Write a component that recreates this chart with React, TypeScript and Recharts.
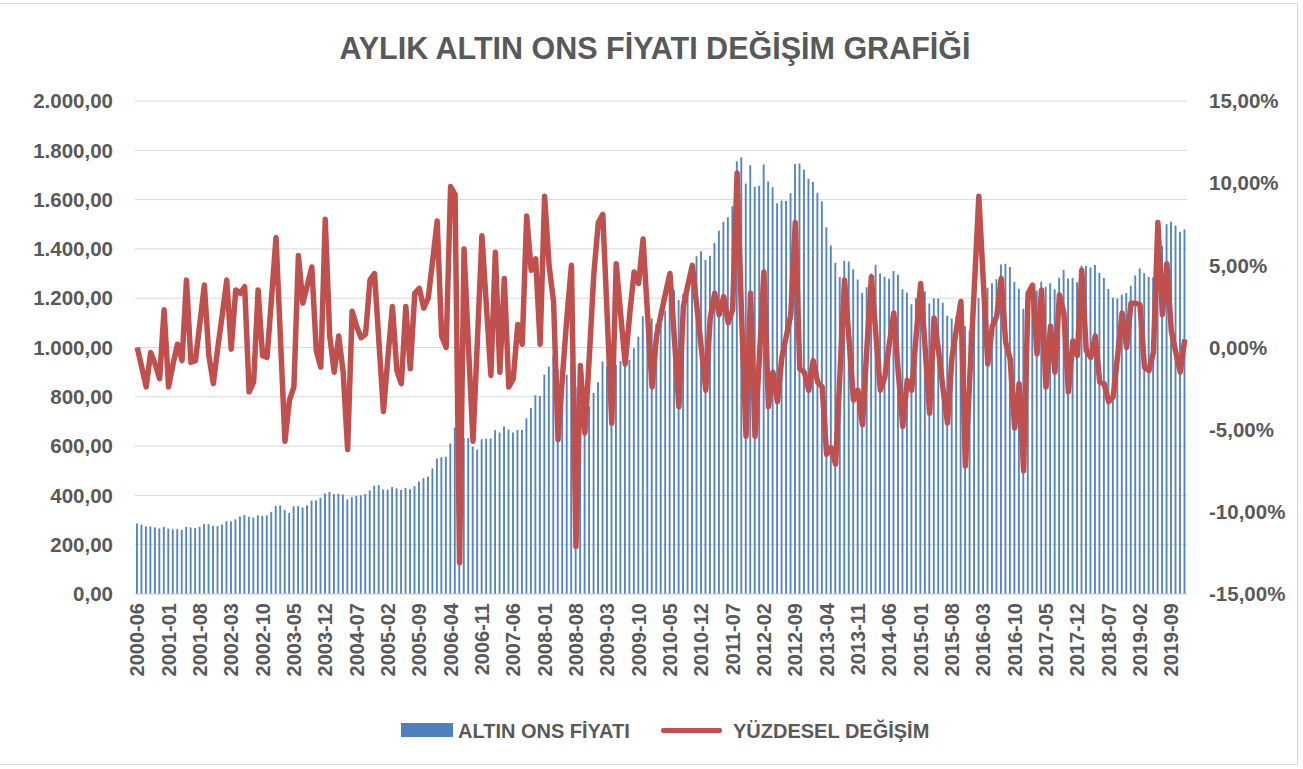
import { ComposedChart, Bar, Line, XAxis, YAxis, CartesianGrid } from 'recharts';

// monthly gold ounce price (USD), 2000-06 .. 2019-12
const goldPrice: number[] = [
  285.7, 281.6, 274.5, 273.7, 270.0, 266.0, 272.0,
  265.5, 261.9, 263.0, 260.5, 272.4, 270.2, 267.5, 272.4, 283.4, 283.1, 276.2, 275.9,
  281.7, 295.5, 294.0, 302.7, 314.5, 321.2, 313.3, 310.3, 319.2, 316.6, 319.2, 333.4,
  356.9, 359.0, 340.6, 328.2, 355.7, 356.4, 351.0, 359.8, 378.9, 378.9, 389.9, 407.6,
  413.8, 404.9, 406.7, 403.3, 383.8, 392.4, 398.1, 400.5, 405.3, 420.5, 439.4, 442.1,
  424.0, 423.4, 434.2, 428.9, 421.9, 430.7, 424.5, 437.9, 456.0, 469.9, 476.7, 509.8,
  549.9, 555.0, 557.1, 610.6, 675.4, 596.2, 633.8, 632.6, 598.2, 585.8, 627.8, 629.8,
  631.2, 664.8, 654.9, 679.4, 666.9, 655.5, 665.3, 665.4, 712.7, 754.6, 806.3, 803.2,
  889.6, 922.3, 968.4, 909.7, 888.7, 889.5, 939.8, 839.0, 829.9, 806.6, 760.9, 816.1,
  858.7, 943.2, 924.3, 890.2, 928.6, 945.7, 934.2, 949.4, 996.6, 1043.2, 1127.0, 1134.7,
  1117.9, 1095.4, 1113.3, 1148.7, 1205.4, 1232.9, 1193.0, 1215.8, 1270.9, 1342.0, 1369.9, 1390.6,
  1356.4, 1372.7, 1424.0, 1473.8, 1510.4, 1528.7, 1572.8, 1755.8, 1771.9, 1665.2, 1738.9, 1652.2,
  1656.1, 1742.6, 1673.8, 1650.1, 1585.5, 1596.7, 1593.9, 1626.0, 1744.5, 1746.6, 1721.6, 1684.8,
  1671.9, 1627.6, 1593.1, 1487.9, 1414.0, 1343.4, 1285.5, 1351.7, 1348.6, 1316.6, 1275.9, 1221.5,
  1244.3, 1300.0, 1336.1, 1299.0, 1287.5, 1279.1, 1310.6, 1295.1, 1236.6, 1222.5, 1175.3, 1200.6,
  1250.8, 1227.1, 1178.6, 1198.9, 1198.6, 1181.5, 1128.3, 1117.5, 1124.5, 1159.3, 1085.7, 1068.3,
  1097.9, 1199.5, 1245.1, 1242.3, 1260.9, 1276.4, 1336.7, 1340.2, 1326.6, 1266.6, 1238.4, 1157.4,
  1192.1, 1234.2, 1231.1, 1266.9, 1246.0, 1260.3, 1236.8, 1283.0, 1314.1, 1279.5, 1281.9, 1264.5,
  1331.3, 1330.7, 1324.7, 1334.8, 1303.5, 1281.6, 1237.7, 1201.7, 1198.4, 1215.4, 1220.7, 1250.4,
  1291.8, 1320.1, 1300.9, 1285.9, 1283.7, 1359.0, 1412.9, 1500.4, 1510.6, 1494.8, 1470.0, 1479.1,
];

// monthly change (%)
const pctChange: number[] = [
  0.0, -1.2, -2.4, -0.3, -1.0, -1.9, 2.3,
  -2.4, -1.0, 0.2, -0.8, 4.1, -0.9, -0.8, 1.5, 3.8, -0.5, -2.2, 0.0,
  2.0, 4.1, -0.1, 3.5, 3.3, 3.7, -2.7, -2.1, 3.5, -0.5, -0.6, 3.0,
  6.7, 0.5, -5.7, -3.2, -2.4, 5.6, 2.7, 3.8, 4.9, -0.2, -1.2, 7.8,
  0.7, -1.5, 0.7, -1.5, -6.2, 2.2, 1.3, 0.6, 0.8, 4.1, 4.5, 0.3,
  -3.9, -0.6, 2.5, -1.4, -2.2, 2.5, -1.3, 3.3, 3.6, 2.4, 3.0, 5.3,
  7.7, 0.7, 0.0, 9.8, 9.3, -13.1, 6.0, 0.0, -5.7, 0.5, 6.8, 2.5,
  -1.7, 5.8, -1.5, 4.2, -2.4, -1.9, 1.4, 0.2, 8.0, 4.7, 5.4, 0.2,
  9.2, 5.0, 2.8, -5.6, -1.7, 1.9, 5.0, -12.1, -1.1, -5.2, -0.5, 4.5,
  7.6, 8.1, 1.8, -4.6, 5.1, 2.0, -1.0, 2.0, 4.6, 3.9, 6.6, 2.0,
  -2.4, 0.7, 2.0, 3.3, 4.5, 0.5, -3.6, 2.5, 3.8, 5.0, 2.5, 0.0,
  -2.6, 1.8, 3.3, 2.0, 3.1, 1.5, 2.3, 10.6, 1.9, -5.4, 3.3, -5.4,
  -0.5, 4.6, -3.6, -1.5, -3.3, -0.6, 0.7, 2.0, 7.6, -1.3, -1.5, -2.6,
  -0.8, -2.1, -2.4, -6.5, -6.1, -7.1, -1.5, 4.1, 0.5, -3.2, -2.6, -4.7,
  0.0, 4.3, 0.8, -2.6, -1.8, 0.2, 2.1, -1.5, -4.8, -2.0, -2.6, 0.7,
  3.9, 0.0, -4.0, 1.8, -0.2, -2.5, -4.6, -0.6, 1.1, 2.8, -7.2, -1.7,
  3.7, 9.2, 4.0, -1.0, 1.3, 1.9, 4.2, 0.3, -0.7, -4.9, -2.2, -7.5,
  3.3, 3.8, -0.4, 3.5, -2.4, 1.3, -1.5, 3.2, 2.1, -2.7, 0.4, -0.5,
  4.7, -0.2, -0.6, 0.7, -2.1, -2.2, -3.3, -3.0, -0.5, 2.1, 0.0, 2.7,
  2.7, 2.6, -1.2, -1.4, -0.3, 7.6, 2.0, 5.1, 1.0, -0.3, -1.5, 0.5,
];

const startYear = 2000;
const startMonth = 6;
const months: string[] = goldPrice.map((_, i) => {
  const m = startMonth - 1 + i;
  const y = startYear + Math.floor(m / 12);
  return `${y}-${String((m % 12) + 1).padStart(2, '0')}`;
});

const priceTicks = [0, 200, 400, 600, 800, 1000, 1200, 1400, 1600, 1800, 2000];
const pctTicks = [-15, -10, -5, 0, 5, 10, 15];

const data = months.map((month, i) => ({
  month,
  'ALTIN ONS FİYATI': goldPrice[i],
  'YÜZDESEL DEĞİŞİM': pctChange[i],
}));

const FONT = "'Liberation Sans', Arial, sans-serif";
const TEXT = '#595959';

const fmtPrice = (v: number) => {
  const [int, dec] = v.toFixed(2).split('.');
  return int.replace(/\B(?=(\d{3})+(?!\d))/g, '.') + ',' + dec;
};
const fmtPct = (v: number) => v.toFixed(2).replace('.', ',') + '%';

const MonthTick = ({ x, y, payload }: any) => (
  <text
    x={x}
    y={y}
    transform={`rotate(-90, ${x}, ${y})`}
    textAnchor="end"
    dy="0.35em"
    fill={TEXT}
    fontSize={20}
    fontWeight="bold"
    fontFamily={FONT}
  >
    {payload.value}
  </text>
);

export default function App() {
  return (
    <div style={{ position: 'absolute', left: 0, top: 0, width: 1303, height: 769, background: '#fff', fontFamily: FONT }}>
      {/* frame */}
      <div
        style={{
          position: 'absolute',
          left: -2,
          top: 3,
          width: 1300,
          height: 762,
          border: '1px solid #D9D9D9',
          boxSizing: 'border-box',
        }}
      />
      <div
        style={{
          position: 'absolute',
          left: 0,
          top: 30,
          width: 1310,
          textAlign: 'center',
          fontSize: 30.5,
          lineHeight: '36px',
          fontWeight: 'bold',
          color: TEXT,
        }}
      >
        AYLIK ALTIN ONS FİYATI DEĞİŞİM GRAFİĞİ
      </div>

      <div style={{ position: 'absolute', left: 0, top: 0 }}>
        <ComposedChart width={1303} height={769} data={data} margin={{ top: 101, right: 0, bottom: 0, left: 0 }}>
          <CartesianGrid vertical={false} stroke="#D9D9D9" yAxisId="left" />
          <XAxis
            dataKey="month"
            interval={6}
            height={175}
            tickLine={false}
            tickSize={0}
            tickMargin={9}
            axisLine={{ stroke: '#D9D9D9' }}
            tick={<MonthTick />}
          />
          <YAxis
            yAxisId="left"
            width={135}
            domain={[0, 2000]}
            ticks={priceTicks}
            tickFormatter={fmtPrice}
            axisLine={false}
            tickLine={false}
            tickSize={0}
            tickMargin={22}
            tick={{ fill: TEXT, fontSize: 20.5, fontWeight: 'bold', fontFamily: FONT }}
          />
          <YAxis
            yAxisId="right"
            orientation="right"
            width={116}
            domain={[-15, 15]}
            ticks={pctTicks}
            tickFormatter={fmtPct}
            axisLine={false}
            tickLine={false}
            tickSize={0}
            tickMargin={22}
            tick={{ fill: TEXT, fontSize: 20.5, fontWeight: 'bold', fontFamily: FONT }}
          />
          <Bar yAxisId="left" dataKey="ALTIN ONS FİYATI" fill="#5585C2" barSize={1.9} isAnimationActive={false} />
          <Line
            yAxisId="right"
            type="linear"
            dataKey="YÜZDESEL DEĞİŞİM"
            stroke="#C0504D"
            strokeWidth={5.5}
            strokeLinejoin="round"
            dot={false}
            activeDot={false}
            isAnimationActive={false}
          />
        </ComposedChart>
      </div>

      {/* legend */}
      <div style={{ position: 'absolute', left: 401, top: 723, width: 52, height: 14, background: '#4F81BD' }} />
      <div style={{ position: 'absolute', left: 458, top: 719, fontSize: 20, lineHeight: '24px', fontWeight: 'bold', color: TEXT }}>
        ALTIN ONS FİYATI
      </div>
      <div style={{ position: 'absolute', left: 661, top: 728, width: 61, height: 5, background: '#C0504D', borderRadius: 2 }} />
      <div style={{ position: 'absolute', left: 733, top: 719, fontSize: 20, lineHeight: '24px', fontWeight: 'bold', color: TEXT }}>
        YÜZDESEL DEĞİŞİM
      </div>
    </div>
  );
}
